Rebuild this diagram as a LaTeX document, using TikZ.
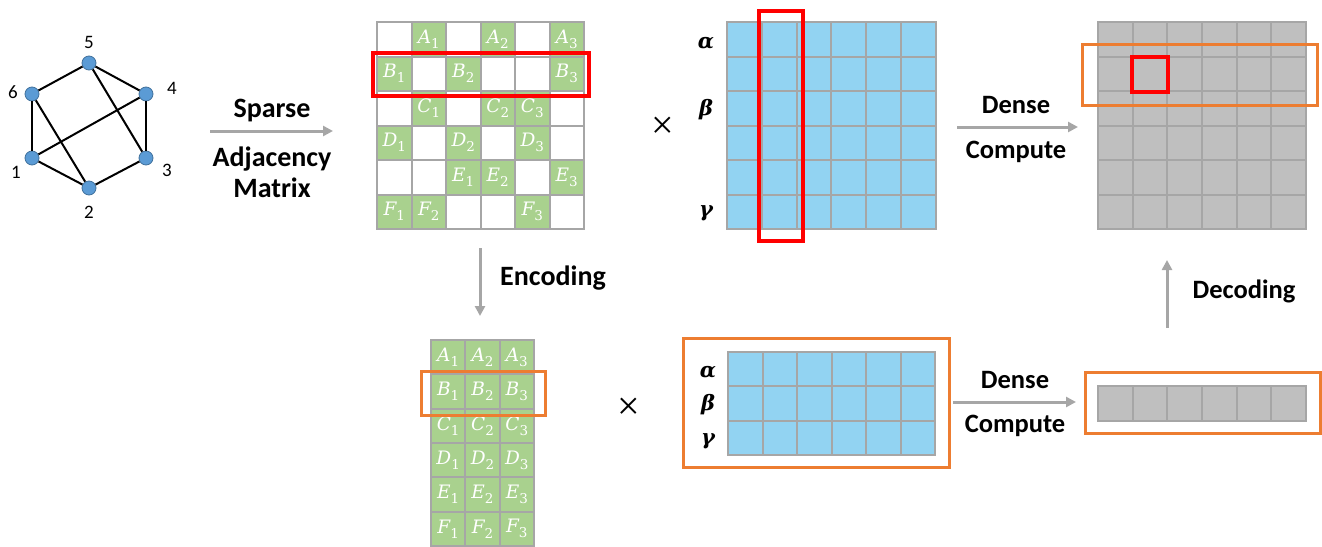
\documentclass[tikz,border=0pt]{standalone}
\usepackage{fontspec}
\setmainfont{Carlito}
\newfontfamily\cmb{DejaVu Serif}
\newfontfamily\tms{Liberation Serif}
\usetikzlibrary{arrows.meta}
\definecolor{gridc}{HTML}{A6A6A6}
\definecolor{greenc}{HTML}{A9D18E}
\definecolor{bluec}{HTML}{92D3F2}
\definecolor{grayc}{HTML}{BFBFBF}
\definecolor{redc}{HTML}{FF0000}
\definecolor{orangec}{HTML}{ED7D31}
\definecolor{arrowc}{HTML}{A6A6A6}
\definecolor{vfill}{HTML}{5B9BD5}
\definecolor{vdraw}{HTML}{41719C}
\newcommand{\mlb}[2]{\raisebox{-4pt}{{\cmb\fontsize{18.5}{18.5}\selectfont\itshape #1}\raisebox{-5pt}{\cmb\fontsize{13.5}{13.5}\selectfont #2}}}
\newcommand{\grk}[1]{{\cmb\fontsize{21}{21}\selectfont\bfseries\itshape #1}}
\tikzset{
  cellbox/.style={rectangle, draw=gridc, line width=2pt, inner sep=0pt, outer sep=0pt},
  sw/.style={cellbox, minimum width=34.5pt, minimum height=34.5pt, fill=white},
  sg/.style={sw, fill=greenc, text=white},
  eg/.style={cellbox, minimum width=34.33pt, minimum height=34.33pt, fill=greenc, text=white},
  bt/.style={cellbox, minimum width=34.8pt, minimum height=34.5pt, fill=bluec},
  bb/.style={cellbox, minimum width=34.5pt, minimum height=34.33pt, fill=bluec},
  gt/.style={cellbox, minimum width=34.67pt, minimum height=34.5pt, fill=grayc},
  gb/.style={cellbox, minimum width=34.67pt, minimum height=35pt, fill=grayc},
  redbox/.style={draw=redc, line width=3.5pt},
  orbox/.style={draw=orangec, line width=3pt},
  arr/.style={draw=arrowc, line width=3pt, -{Triangle[length=10pt,width=10pt]}},
  lbl/.style={font=\fontsize{28}{28}\selectfont\bfseries, anchor=base},
  lbs/.style={font=\fontsize{26.5}{26.5}\selectfont\bfseries, anchor=base},
  vtx/.style={circle, fill=vfill, draw=vdraw, line width=0.8pt, minimum size=14pt, inner sep=0pt},
  vlab/.style={font=\fontsize{19}{19}\selectfont},
  edge/.style={draw=black, line width=2pt},
  greek/.style={inner sep=0pt},
  timesn/.style={inner sep=0pt, font=\tms\fontsize{40}{40}\selectfont}
}
\begin{document}
\begin{tikzpicture}[x=1pt,y=-1pt]
\useasboundingbox (0,0) rectangle (1322,546);
% graph
\node[vtx] (v5) at (89,63) {};
\node[vtx] (v6) at (32,94) {};
\node[vtx] (v4) at (146,94) {};
\node[vtx] (v1) at (32,158) {};
\node[vtx] (v3) at (146,158) {};
\node[vtx] (v2) at (89,188) {};
\foreach \a/\b in {5/6,5/4,5/3,6/1,6/2,4/1,4/3,1/2,2/3}
  \draw[edge] (v\a) -- (v\b);
\node[vlab] (l5) at (89,42) {5};
\node[vlab] (l6) at (13,92) {6};
\node[vlab] (l4) at (172,88) {4};
\node[vlab] (l1) at (16,172) {1};
\node[vlab] (l3) at (167,170) {3};
\node[vlab] (l2) at (89,212) {2};
% sparse arrow
\coordinate (sa1) at (210,131);
\coordinate (sa2) at (333,131);
\draw[arr] (sa1) -- (sa2);
\node[lbl] (tsparse) at (272,117) {Sparse};
\node[lbl] (tadj) at (272,166) {Adjacency};
\node[lbl] (tmat) at (272,197) {Matrix};
% sparse matrix
\foreach \r/\c in {1/1,1/3,1/5,2/2,2/4,2/5,3/1,3/3,3/6,4/2,4/4,4/6,5/1,5/2,5/5,6/3,6/4,6/6}
  \node[sw] (s-\r-\c) at ({377+34.5*(\c-0.5)},{22+34.5*(\r-0.5)}) {};
\foreach \r/\c/\L/\n in {1/2/A/1,1/4/A/2,1/6/A/3,2/1/B/1,2/3/B/2,2/6/B/3,3/2/C/1,3/4/C/2,3/5/C/3,4/1/D/1,4/3/D/2,4/5/D/3,5/3/E/1,5/4/E/2,5/6/E/3,6/1/F/1,6/2/F/2,6/5/F/3}
  \node[sg] (s-\r-\c) at ({377+34.5*(\c-0.5)},{22+34.5*(\r-0.5)}) {\mlb{\L}{\n}};
\draw[redbox] (373,53) rectangle (589,96);
% times
\node[timesn] (x1) at (663,128) {×};
% blue top
\foreach \r in {1,...,6} \foreach \c in {1,...,6}
  \node[bt] (b-\r-\c) at ({727+34.8*(\c-0.5)},{22+34.5*(\r-0.5)}) {};
\node[greek] (ga1) at (706,43) {\grk{α}};
\node[greek] (gb1) at (706,110) {\grk{β}};
\node[greek] (gg1) at (706,213) {\grk{γ}};
\draw[redbox] (759,11) rectangle (803,241);
% dense compute top
\coordinate (da1) at (957,127);
\coordinate (da2) at (1078,127);
\draw[arr] (da1) -- (da2);
\node[lbs] (tdense1) at (1016,113) {Dense};
\node[lbs] (tcomp1) at (1016,158) {Compute};
% gray top
\foreach \r in {1,...,6} \foreach \c in {1,...,6}
  \node[gt] (g-\r-\c) at ({1098+34.67*(\c-0.5)},{22+34.5*(\r-0.5)}) {};
\draw[orbox] (1082,44) rectangle (1317,105);
\draw[redbox] (1132,57) rectangle (1168,92);
% encoding
\coordinate (ea1) at (480,248);
\coordinate (ea2) at (480,316);
\draw[arr] (ea1) -- (ea2);
\node[lbl] (tenc) at (553,285) {Encoding};
% encoded matrix
\foreach \r/\L in {1/A,2/B,3/C,4/D,5/E,6/F} \foreach \c in {1,2,3}
  \node[eg] (e-\r-\c) at ({431+34.33*(\c-0.5)},{340+34.33*(\r-0.5)}) {\mlb{\L}{\c}};
\draw[orbox] (421,371) rectangle (545,415);
\node[timesn] (x2) at (629,409) {×};
% bottom blue
\foreach \r in {1,2,3} \foreach \c in {1,...,6}
  \node[bb] (bb-\r-\c) at ({728+34.5*(\c-0.5)},{352+34.33*(\r-0.5)}) {};
\node[greek] (ga2) at (708,372) {\grk{α}};
\node[greek] (gb2) at (708,405) {\grk{β}};
\node[greek] (gg2) at (708,441) {\grk{γ}};
\draw[orbox] (683,338) rectangle (949,467);
% dense compute bottom
\coordinate (db1) at (953,402);
\coordinate (db2) at (1076,402);
\draw[arr] (db1) -- (db2);
\node[lbs] (tdense2) at (1015,388) {Dense};
\node[lbs] (tcomp2) at (1015,432) {Compute};
% bottom gray
\foreach \c in {1,...,6}
  \node[gb] (gb-\c) at ({1098+34.67*(\c-0.5)},{386+17.5}) {};
\draw[orbox] (1085,372) rectangle (1320,433);
% decoding
\coordinate (dc1) at (1167,328);
\coordinate (dc2) at (1167,260);
\draw[arr] (dc1) -- (dc2);
\node[lbs] (tdec) at (1244,298) {Decoding};
\end{tikzpicture}
\end{document}
